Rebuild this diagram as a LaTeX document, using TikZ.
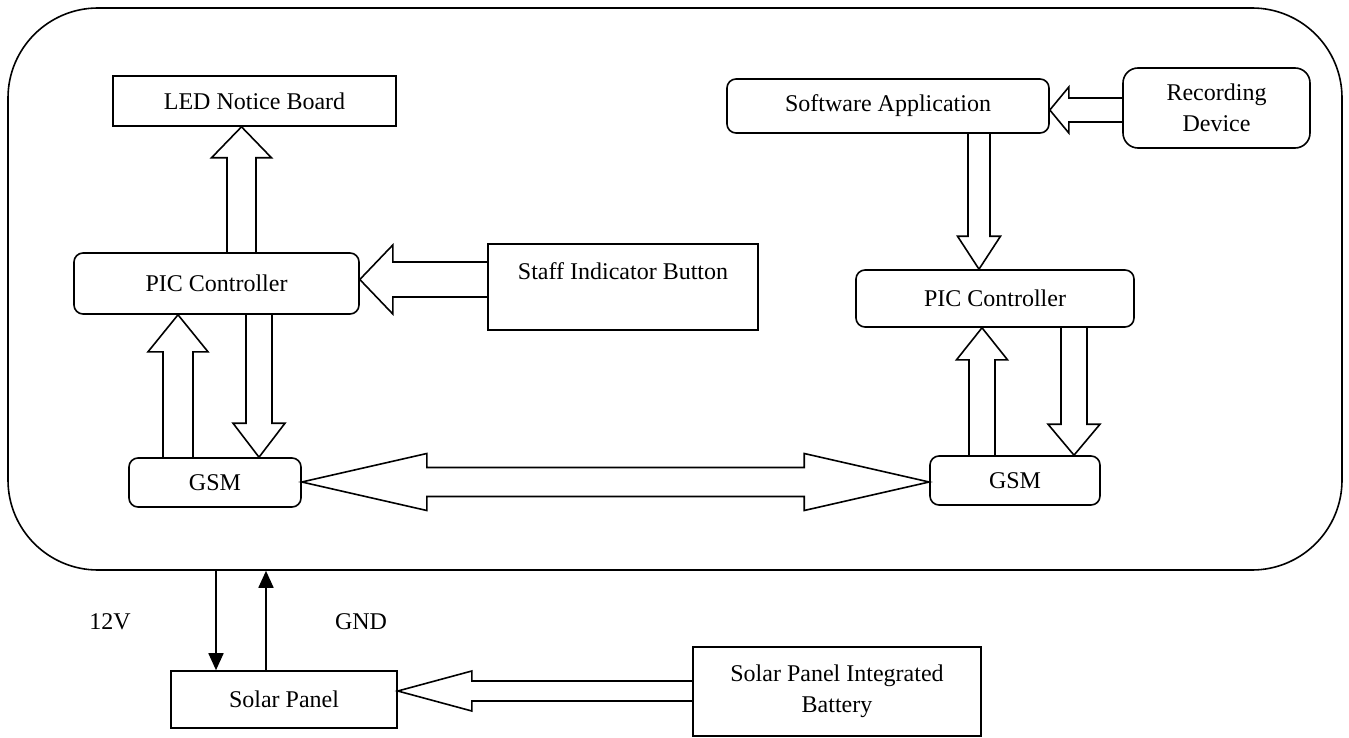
\documentclass[tikz,border=0pt]{standalone}
\usepackage{fontspec}
\setmainfont{Liberation Serif}
\usetikzlibrary{calc,arrows.meta}
\newcommand\blkarrow[5]{%
  \draw[blkline] let \p1=(#1), \p2=(#2), \n1={atan2(\y2-\y1,\x2-\x1)}, \n2={veclen(\x2-\x1,\y2-\y1)} in
    [shift={(\p1)},rotate=\n1] (0,-#3) -- ({\n2-#5},-#3) -- ({\n2-#5},-#4) -- (\n2,0) -- ({\n2-#5},#4) -- ({\n2-#5},#3) -- (0,#3);}
\newcommand\dblarrow[5]{%
  \draw[blkline] let \p1=(#1), \p2=(#2), \n1={atan2(\y2-\y1,\x2-\x1)}, \n2={veclen(\x2-\x1,\y2-\y1)} in
    [shift={(\p1)},rotate=\n1] (0,0) -- (#5,-#4) -- (#5,-#3) -- ({\n2-#5},-#3) -- ({\n2-#5},-#4) -- (\n2,0) -- ({\n2-#5},#4) -- ({\n2-#5},#3) -- (#5,#3) -- (#5,#4) -- cycle;}
\begin{document}
\begin{tikzpicture}[x=1pt,y=-1pt, font=\fontsize{24}{31}\selectfont, line width=1.6pt,
  box/.style={draw, inner sep=0pt, align=center},
  rbox/.style={box, rounded corners=9pt},
  blkline/.style={line join=miter, line width=1.6pt},
  pwrarrow/.style={-{Triangle[length=17pt,width=15pt]}, line width=1.8pt}]
\useasboundingbox (0,0) rectangle (1349,738);
\node[draw, rounded corners=90pt, minimum width=1334pt, minimum height=562pt, inner sep=0pt] (sys) at (675,289) {};

\node[box, minimum width=283pt, minimum height=50pt] (led) at (254.5,101) {LED Notice Board};
\node[rbox, minimum width=285pt, minimum height=61pt] (picL) at (216.5,283.5) {PIC Controller};
\node[box, minimum width=270pt, minimum height=86pt] (staff) at (623,287) {Staff Indicator Button\\\mbox{}};
\node[rbox, minimum width=322pt, minimum height=54pt] (swapp) at (888,106) {Software Application};
\node[rbox, rounded corners=15pt, minimum width=187pt, minimum height=80pt] (rec) at (1216.5,108) {Recording\\Device};
\node[rbox, minimum width=278pt, minimum height=57pt] (picR) at (995,298.5) {PIC Controller};
\node[rbox, minimum width=172pt, minimum height=49pt] (gsmL) at (215,482.5) {GSM};
\node[rbox, minimum width=170pt, minimum height=49pt] (gsmR) at (1015,480.5) {GSM};
\node[box, minimum width=226pt, minimum height=57pt] (solar) at (284,699.5) {Solar Panel};
\node[box, minimum width=288pt, minimum height=89pt] (batt) at (837,691.5) {Solar Panel Integrated\\Battery};

\coordinate (a1s) at ($(picL.north)+(25,0)$);
\coordinate (a1e) at ($(led.south)+(-13,0)$);
\blkarrow{a1s}{a1e}{14.5}{30}{31}
\coordinate (a2s) at ($(staff.west)+(0,-7.5)$);
\coordinate (a2e) at ($(picL.east)+(0,-4)$);
\blkarrow{a2s}{a2e}{17.5}{34.5}{33}
\coordinate (a3s) at ($(gsmL.north)+(-37,0)$);
\coordinate (a3e) at ($(picL.south)+(-38.5,0)$);
\blkarrow{a3s}{a3e}{15}{30}{37}
\coordinate (a4s) at ($(picL.south)+(42.5,0)$);
\coordinate (a4e) at ($(gsmL.north)+(44,0)$);
\blkarrow{a4s}{a4e}{13}{26}{34}
\coordinate (a5s) at ($(swapp.south)+(91,0)$);
\coordinate (a5e) at ($(picR.north)+(-16,0)$);
\blkarrow{a5s}{a5e}{11}{21.5}{33}
\coordinate (a6s) at ($(rec.west)+(0,2)$);
\coordinate (a6e) at ($(swapp.east)+(0,4)$);
\blkarrow{a6s}{a6e}{12}{23}{19}
\coordinate (a7s) at ($(gsmR.north)+(-33,0)$);
\coordinate (a7e) at ($(picR.south)+(-13,0)$);
\blkarrow{a7s}{a7e}{13}{25.5}{32}
\coordinate (a8s) at ($(picR.south)+(79,0)$);
\coordinate (a8e) at ($(gsmR.north)+(59,0)$);
\blkarrow{a8s}{a8e}{13}{26}{31}
\coordinate (a9s) at ($(batt.west)+(0,-0.5)$);
\coordinate (a9e) at ($(solar.east)+(0,-8.5)$);
\blkarrow{a9s}{a9e}{10}{20}{74}
\coordinate (d1) at ($(gsmL.east)+(0,-0.5)$);
\coordinate (d2) at ($(gsmR.west)+(0,1.5)$);
\dblarrow{d1}{d2}{14.5}{28.5}{125}

\coordinate (v1) at ($(solar.north)+(-68,0)$);
\coordinate (g1) at ($(solar.north)+(-18,0)$);
\draw[pwrarrow] (v1 |- sys.south) -- (v1);
\draw[pwrarrow] (g1) -- (g1 |- sys.south);
\node (l12) at (110,622) {12V};
\node (lgnd) at (361,622) {GND};
\end{tikzpicture}
\end{document}
